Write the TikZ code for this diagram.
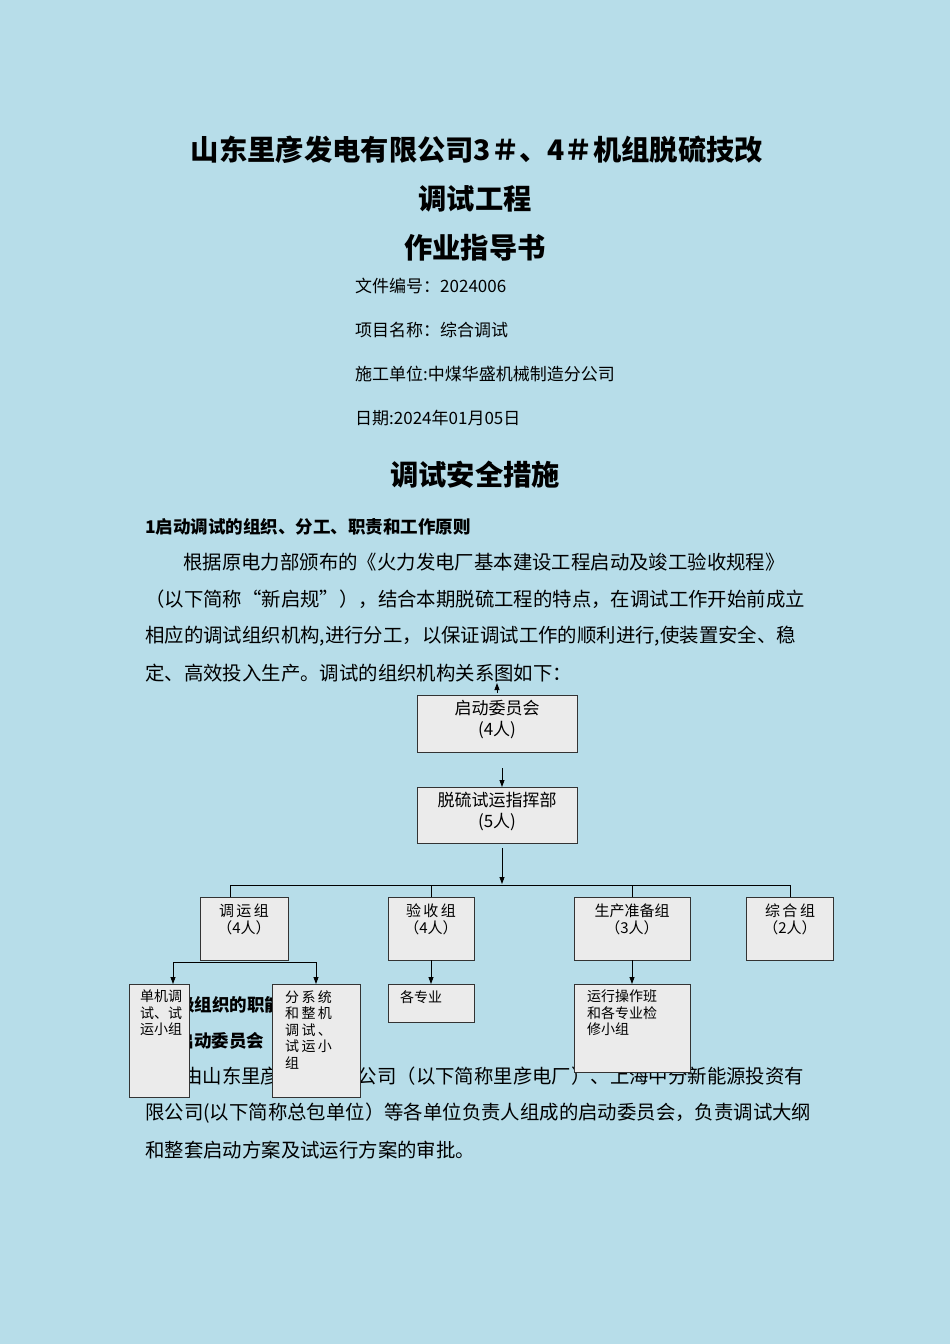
\documentclass[tikz,border=0pt]{standalone}
\usepackage{fontspec}
\setmainfont{Noto Sans CJK SC}
\usetikzlibrary{arrows.meta}
\begin{document}
\begin{tikzpicture}[x=1pt,y=-1pt,
  txt/.style={anchor=west,inner sep=0pt,font=\fontsize{19.4}{19.4}\selectfont},
  ttl/.style={inner sep=0pt,font=\fontsize{28.3}{28.3}\selectfont\bfseries},
  bx/.style={draw=black!80,fill=black!8,line width=0.8pt},
  bt/.style={inner sep=0pt,font=\fontsize{14}{16.5}\selectfont,align=left,anchor=north west},
  ar/.style={-{Triangle[length=7pt,width=5pt]},line width=0.8pt},
  ln/.style={line width=0.8pt}]
\fill[fill={rgb,255:red,183;green,221;blue,233}] (0,0) rectangle (950,1344);
\node[ttl] (t1) at (477,150) {山东里彦发电有限公司3＃、4＃机组脱硫技改};
\node[ttl] (t2) at (475,199) {调试工程};
\node[ttl] (t3) at (475,248) {作业指导书};
\node[txt,font=\fontsize{17}{17}\selectfont] (i1) at (355,286) {文件编号：2024006};
\node[txt,font=\fontsize{17}{17}\selectfont] (i2) at (355,330) {项目名称：综合调试};
\node[txt,font=\fontsize{17}{17}\selectfont] (i3) at (355,374) {施工单位:中煤华盛机械制造分公司};
\node[txt,font=\fontsize{17}{17}\selectfont] (i4) at (355,418) {日期:2024年01月05日};
\node[ttl] (t4) at (475,475) {调试安全措施};
\node[txt,font=\fontsize{17.5}{17.5}\selectfont\bfseries] (h1) at (145,527) {1启动调试的组织、分工、职责和工作原则};
\node[txt] (p1) at (183,562) {根据原电力部颁布的《火力发电厂基本建设工程启动及竣工验收规程》};
\node[txt] (p2) at (145,599) {（以下简称“新启规”），结合本期脱硫工程的特点，在调试工作开始前成立};
\node[txt] (p3) at (145,636) {相应的调试组织机构,进行分工，以保证调试工作的顺利进行,使装置安全、稳};
\node[txt] (p4) at (145,673) {定、高效投入生产。调试的组织机构关系图如下：};
\node[txt,font=\fontsize{17.5}{17.5}\selectfont\bfseries] (h2) at (145,1005) {2 各级组织的职能及职责};
\node[txt,font=\fontsize{17.5}{17.5}\selectfont\bfseries] (h3) at (145,1041) {2.1 启动委员会};
\node[txt] (p5) at (183,1076) {由山东里彦发电有限公司（以下简称里彦电厂）、上海中分新能源投资有};
\node[txt] (p6) at (145,1113) {限公司(以下简称总包单位）等各单位负责人组成的启动委员会，负责调试大纲};
\node[txt] (p7) at (145,1150) {和整套启动方案及试运行方案的审批。};
% boxes
\draw[bx] (417,695) rectangle (577,752);
\node[inner sep=0pt,font=\fontsize{17}{21}\selectfont,align=center] (b1) at (497,720) {启动委员会\\(4人)};
\draw[bx] (417,787) rectangle (577,843);
\node[inner sep=0pt,font=\fontsize{17}{21}\selectfont,align=center] (b2) at (497,811) {脱硫试运指挥部\\(5人)};
\coordinate (a0) at (497,693); \coordinate (a0t) at (497,683);
\draw[ar] (a0) -- (a0t);
\coordinate (a1) at (502,768); \coordinate (a1e) at (502,787);
\draw[ar] (a1) -- (a1e);
\coordinate (a2) at (502,848); \coordinate (a2e) at (502,884);
\draw[ar] (a2) -- (a2e);
\coordinate (hL) at (230,885); \coordinate (hR) at (790,885);
\draw[ln] (hL) -- (hR);
\foreach \x/\l/\r in {230/200/288,431/388/474,632/574/690,790/746/833}{
  \draw[ln] (\x,885) -- (\x,897);
  \draw[bx] (\l,897) rectangle (\r,960);
}
\node[inner sep=0pt,font=\fontsize{15}{17}\selectfont,align=center] (g1) at (244,919) {调\,运\,组\\（4人）};
\node[inner sep=0pt,font=\fontsize{15}{17}\selectfont,align=center] (g2) at (431,919) {验\,收\,组\\（4人）};
\node[inner sep=0pt,font=\fontsize{15}{17}\selectfont,align=center] (g3) at (632,919) {生产准备组\\（3人）};
\node[inner sep=0pt,font=\fontsize{15}{17}\selectfont,align=center] (g4) at (790,919) {综\,合\,组\\（2人）};
\coordinate (sL) at (173,962); \coordinate (sR) at (316,962);
\draw[ln] (sL) -- (sR);
\draw[ar] (sL) -- (173,984);
\draw[ar] (sR) -- (316,984);
\draw[ar] (431,960) -- (431,984);
\draw[ar] (632,960) -- (632,984);
\draw[bx] (129,984) rectangle (189,1097);
\node[bt] (s1) at (140,990) {单机调\\试、试\\运小组};
\draw[bx] (272,984) rectangle (360,1097);
\node[bt] (s2) at (285,990) {分\,系\,统\\和\,整\,机\\调\,试\,、\\试\,运\,小\\组};
\draw[bx] (388,984) rectangle (474,1022);
\node[bt] (s3) at (400,990) {各专业};
\draw[bx] (574,984) rectangle (690,1072);
\node[bt] (s4) at (587,990) {运行操作班\\和各专业检\\修小组};
\end{tikzpicture}
\end{document}
